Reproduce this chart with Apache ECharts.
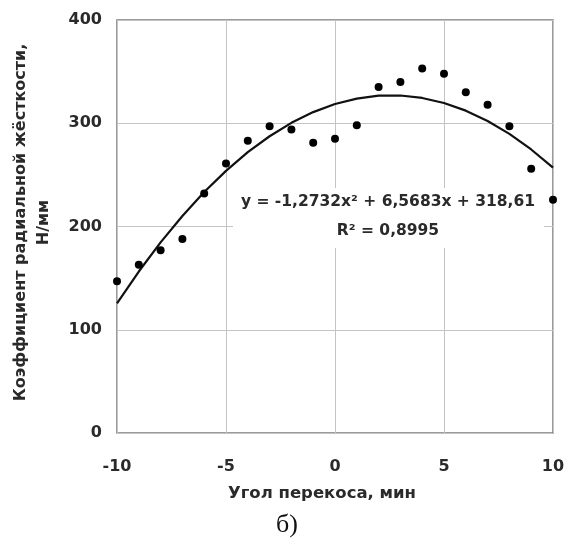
<!DOCTYPE html>
<html>
<head>
<meta charset="utf-8">
<script src="https://cdn.jsdelivr.net/npm/echarts@6/dist/echarts.min.js"></script>
<style>
  html, body { margin: 0; padding: 0; background: #fff; }
  #chart { width: 564px; height: 544px; }
</style>
</head>
<body>
<div id="chart"></div>
<script>
// угол перекоса, мин
const angles = [-10, -9, -8, -7, -6, -5, -4, -3, -2, -1, 0, 1, 2, 3, 4, 5, 6, 7, 8, 9, 10];
// измеренный коэффициент радиальной жёсткости, Н/мм
const stiffness = [147, 163, 177, 188, 232, 261, 283, 297, 294, 281, 285, 298, 335, 340, 353, 348, 330, 318, 297, 256, 226];
// линия тренда (полином 2-й степени)
const trend = [125.6, 156.4, 184.6, 210.2, 233.4, 253.9, 272.0, 287.4, 300.4, 310.8, 318.6, 323.9, 326.7, 326.9, 324.5, 319.6, 312.2, 302.2, 289.7, 274.6, 257.0];
const xTicks = [-10, -5, 0, 5, 10];
const yTicks = [0, 100, 200, 300, 400];

const eqText = 'y = -1,2732x² + 6,5683x + 318,61';
const r2Text = 'R² = 0,8995';

const font = 'DejaVu Sans';
const chart = echarts.init(document.getElementById('chart'));

chart.setOption({
    animation: false,
    backgroundColor: '#fff',
    grid: {
        left: 117,
        right: 11,
        top: 20,
        bottom: 111,
        outerBoundsMode: 'none',
        show: true,
        borderColor: '#7a7a7a',
        borderWidth: 1.5,
    },
    xAxis: {
        type: 'value',
        min: xTicks[0],
        max: xTicks[xTicks.length - 1],
        interval: 5,
        name: 'Угол перекоса, мин',
        nameLocation: 'middle',
        nameGap: 52,
        nameTextStyle: { fontFamily: font, fontSize: 16.5, fontWeight: 'bold', color: '#2a2a2a', padding: [0, 26, 0, 0] },
        axisLine: { show: false },
        axisTick: { show: false },
        axisLabel: { fontFamily: font, fontSize: 16, fontWeight: 'bold', color: '#2a2a2a', margin: 26 },
        splitLine: { lineStyle: { color: '#c4c4c4', width: 1 } },
    },
    yAxis: {
        type: 'value',
        min: yTicks[0],
        max: yTicks[yTicks.length - 1],
        interval: 100,
        name: 'Коэффициент радиальной жёсткости,\nН/мм',
        nameLocation: 'middle',
        nameRotate: 90,
        nameGap: 62,
        nameTextStyle: { fontFamily: font, fontSize: 16, fontWeight: 'bold', color: '#2a2a2a', lineHeight: 23, padding: [0, 0, 0, 8] },
        axisLine: { show: false },
        axisTick: { show: false },
        axisLabel: { fontFamily: font, fontSize: 16, fontWeight: 'bold', color: '#2a2a2a', margin: 15 },
        splitLine: { lineStyle: { color: '#c4c4c4', width: 1 } },
    },
    series: [
        {
            name: 'тренд',
            type: 'line',
            smooth: false,
            showSymbol: false,
            lineStyle: { color: '#111', width: 2.2 },
            data: angles.map((a, i) => [a, trend[i]]),
            z: 2,
        },
        {
            name: 'эксперимент',
            type: 'scatter',
            symbolSize: 8,
            itemStyle: { color: '#000', opacity: 1 },
            data: angles.map((a, i) => [a, stiffness[i]]),
            z: 3,
        },
    ],
    graphic: [
        {
            type: 'rect',
            shape: { x: 233, y: 188, width: 311, height: 60 },
            style: { fill: '#fff' },
            z: 1,
        },
        {
            type: 'text',
            x: 388,
            y: 202,
            style: {
                text: eqText,
                fontFamily: font, fontSize: 15.5, fontWeight: 'bold',
                fill: '#2a2a2a', align: 'center', verticalAlign: 'middle',
            },
            z: 10,
        },
        {
            type: 'text',
            x: 388,
            y: 231,
            style: {
                text: r2Text,
                fontFamily: font, fontSize: 15.5, fontWeight: 'bold',
                fill: '#2a2a2a', align: 'center', verticalAlign: 'middle',
            },
            z: 10,
        },
        {
            type: 'text',
            x: 287,
            y: 525,
            style: {
                text: 'б)',
                fontFamily: 'Liberation Serif', fontSize: 26,
                fill: '#111', align: 'center', verticalAlign: 'middle',
            },
        },
    ],
});
</script>
</body>
</html>
